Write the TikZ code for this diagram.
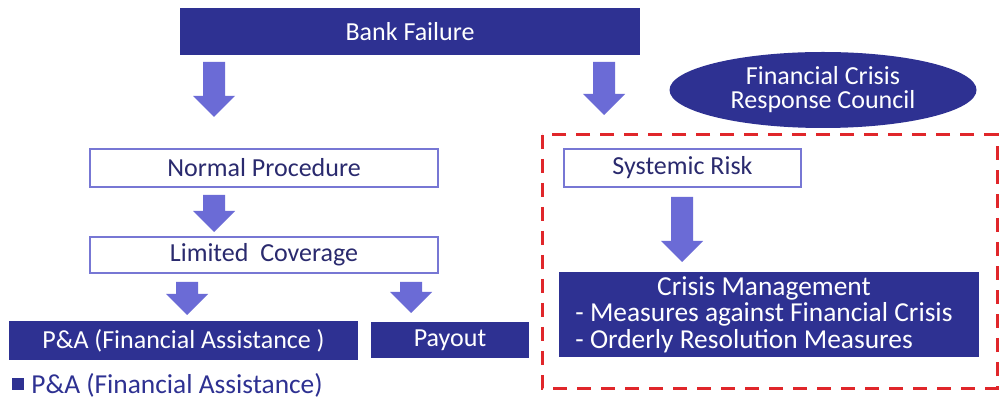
\documentclass[tikz,border=0pt]{standalone}
\usepackage{fontspec}
\setmainfont{Carlito}
\usetikzlibrary{shapes.geometric}
\definecolor{navy}{HTML}{2E3192}
\definecolor{navytext}{HTML}{2A2A6E}
\definecolor{arrowfill}{HTML}{6B6BD6}
\definecolor{boxline}{HTML}{7777D4}
\definecolor{dashred}{HTML}{E0262A}
\tikzset{
  darkbox/.style={draw=none, fill=navy, text=white, inner sep=0pt},
  lightbox/.style={draw=boxline, line width=1.2pt, fill=white, text=navytext, inner sep=0pt},
  blockarrow/.style={fill=arrowfill, draw=none},
  txt/.style={font=\fontsize{13pt}{12pt}\selectfont},
  bigtxt/.style={font=\fontsize{13.7pt}{12.3pt}\selectfont}
}
\newcommand{\barrow}[4]{% name, x center, y top, y tip
  \fill[blockarrow] (#2-11,#3) -- (#2+11,#3) -- (#2+11,#4-21) -- (#2+21,#4-21) -- (#2,#4) -- (#2-21,#4-21) -- (#2-11,#4-21) -- cycle;
  \coordinate (#1) at (#2,#4);
}
\begin{document}
\begin{tikzpicture}[x=0.5pt,y=-0.5pt,txt]
\useasboundingbox (0,0) rectangle (1000,400);
\fill[white] (0,0) rectangle (1000,400);

% red dashed region
\draw[dashred, line width=1.5pt, dash pattern=on 7pt off 5pt] (542,135) rectangle (997,388);

% boxes
\node[darkbox, minimum width=230pt, minimum height=23.5pt] (bank) at (410,31.5) {Bank Failure};
\node[ellipse, fill=navy, text=white, minimum width=153.5pt, minimum height=38pt, inner sep=0pt, align=center] (council) at (823,90) {Financial Crisis\\Response Council};
\node[lightbox, minimum width=174pt, minimum height=19pt] (normal) at (264,168) {Normal Procedure};
\node[lightbox, minimum width=118.5pt, minimum height=19pt] (systemic) at (682.5,168) {Systemic Risk};
\node[lightbox, minimum width=174pt, minimum height=18pt] (limited) at (264,255) {Limited\ \ Coverage};
\node[darkbox, minimum width=174.5pt, minimum height=19.5pt] (pa) at (183.5,340.5) {P\&A (Financial Assistance )};
\node[darkbox, minimum width=79pt, minimum height=18pt] (payout) at (450,340) {Payout};
\node[darkbox, minimum width=210pt, minimum height=42.5pt] (crisis) at (769,314.5) {};
\node[text=white, inner sep=0pt, bigtxt] (crisistext) at (764,316) {\begin{tabular}{@{}l@{}}\multicolumn{1}{@{}c@{}}{Crisis Management}\\- Measures against Financial Crisis\\- Orderly Resolution Measures\end{tabular}};

% legend
\node[fill=navy, minimum size=6pt, inner sep=0pt] (legsq) at (18,384) {};
\node[anchor=west, text=navy, inner sep=0pt, bigtxt] (legtxt) at (31,385) {P\&A (Financial Assistance)};

% block arrows
\barrow{a1}{214}{62}{117}
\barrow{a2}{604}{62}{115}
\barrow{a3}{214}{195}{232}
\barrow{a4}{187}{282}{315}
\barrow{a5}{411}{282}{313}
\barrow{a6}{682}{197}{262}
\end{tikzpicture}
\end{document}
